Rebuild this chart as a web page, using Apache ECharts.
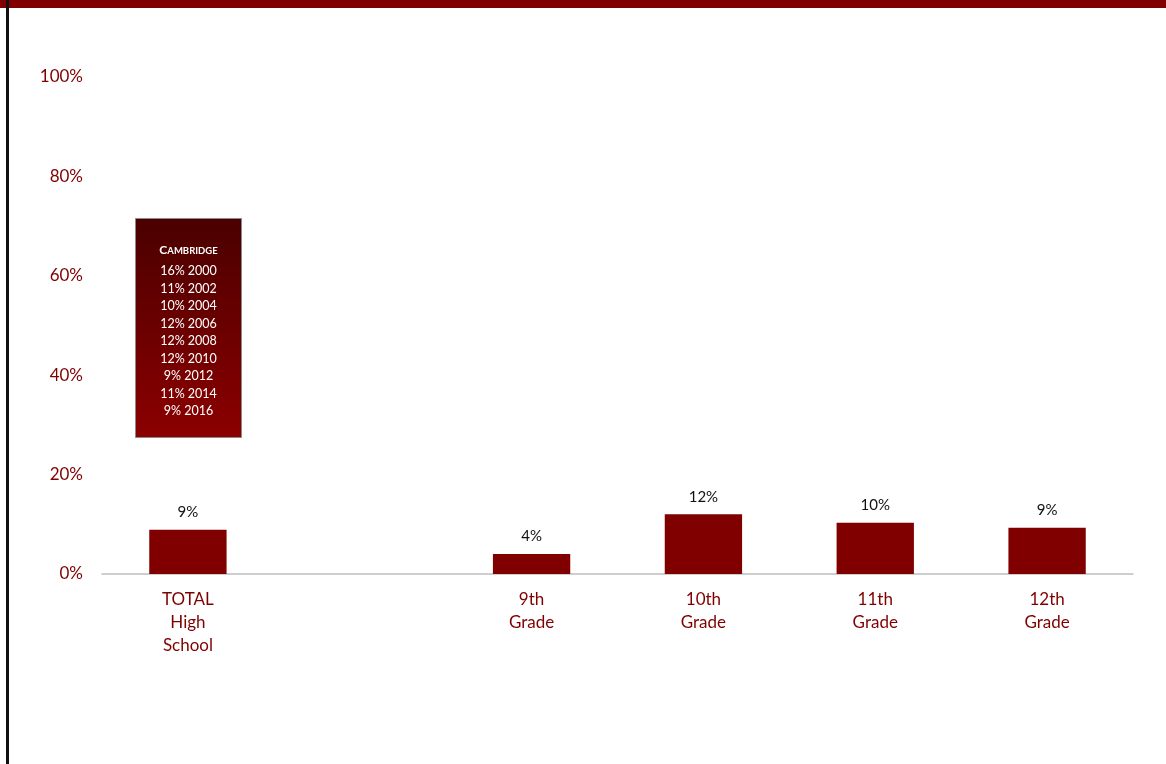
<!DOCTYPE html>
<html>
<head>
<meta charset="utf-8">
<script src="https://cdn.jsdelivr.net/npm/echarts@6/dist/echarts.min.js"></script>
<style>
  html, body { margin: 0; padding: 0; background: #fff; }
  #chart { width: 1166px; height: 764px; }
</style>
</head>
<body>
<div id="chart"></div>
<script>
// Grade categories (blank slot separates the total from the grades)
const categories = ['TOTAL\nHigh\nSchool', '', '9th\nGrade', '10th\nGrade', '11th\nGrade', '12th\nGrade'];
// Share of students, percent
const values = [8.9, null, 4.0, 12.0, 10.3, 9.3];
// Y axis ticks
const yTicks = [0, 20, 40, 60, 80, 100];
// Cambridge history shown in the inset box
const historyYears = [2000, 2002, 2004, 2006, 2008, 2010, 2012, 2014, 2016];
const historyValues = [16, 11, 10, 12, 12, 12, 9, 11, 9];

const RED = '#800000';
const chart = echarts.init(document.getElementById('chart'));

const historyText = historyYears.map((y, i) => historyValues[i] + '% ' + y).join('\n');

chart.setOption({
  animation: false,
  textStyle: { fontFamily: 'Lato, "Open Sans", sans-serif' },
  grid: { left: 102, right: 33, top: 77, bottom: 190 },
  xAxis: {
    type: 'category',
    data: categories,
    axisLine: { lineStyle: { color: '#bfbfbf', width: 1.5 } },
    axisTick: { show: false },
    axisLabel: {
      color: RED, fontSize: 17, lineHeight: 23, margin: 14, interval: 0,
      fontFamily: 'Lato, sans-serif'
    }
  },
  yAxis: {
    type: 'value',
    min: yTicks[0], max: yTicks[yTicks.length - 1], interval: 20,
    splitLine: { show: false },
    axisLine: { show: false },
    axisTick: { show: false },
    axisLabel: {
      color: RED, fontSize: 17, margin: 19,
      formatter: v => v + '%', fontFamily: 'Lato, sans-serif'
    }
  },
  series: [{
    type: 'bar',
    data: values,
    barWidth: '45%',
    itemStyle: { color: RED },
    label: {
      show: true, position: 'top', distance: 10,
      color: '#111', fontSize: 15, fontFamily: 'Lato, sans-serif',
      formatter: p => Math.round(p.value) + '%'
    }
  }],
  graphic: [
    // top banner
    { type: 'rect', left: 0, top: 0, shape: { width: 1166, height: 8 }, style: { fill: RED }, z: 10 },
    // left border line
    { type: 'rect', left: 6, top: 0, shape: { width: 3, height: 764 }, style: { fill: '#111' }, z: 11 },
    // inset box
    {
      type: 'group', left: 135, top: 218, z: 20,
      children: [
        {
          type: 'rect', shape: { width: 106, height: 219 },
          style: {
            fill: new echarts.graphic.LinearGradient(0, 0, 0, 1, [
              { offset: 0, color: '#4a0000' },
              { offset: 1, color: '#8c0000' }
            ]),
            stroke: '#8a8a8a', lineWidth: 1
          }
        },
        {
          type: 'text', x: 53, y: 26,
          style: {
            text: '{a|C}{b|AMBRIDGE}', align: 'center', verticalAlign: 'top',
            rich: {
              a: { fill: '#fff', fontSize: 12, fontWeight: 'bold', fontFamily: 'Lato, sans-serif' },
              b: { fill: '#fff', fontSize: 9.5, fontWeight: 'bold', fontFamily: 'Lato, sans-serif' }
            }
          }
        },
        {
          type: 'text', x: 53, y: 44,
          style: {
            text: historyText, align: 'center', verticalAlign: 'top',
            fill: '#fff', fontSize: 12.5, lineHeight: 17.5, fontFamily: 'Lato, sans-serif'
          }
        }
      ]
    }
  ]
});
</script>
</body>
</html>
